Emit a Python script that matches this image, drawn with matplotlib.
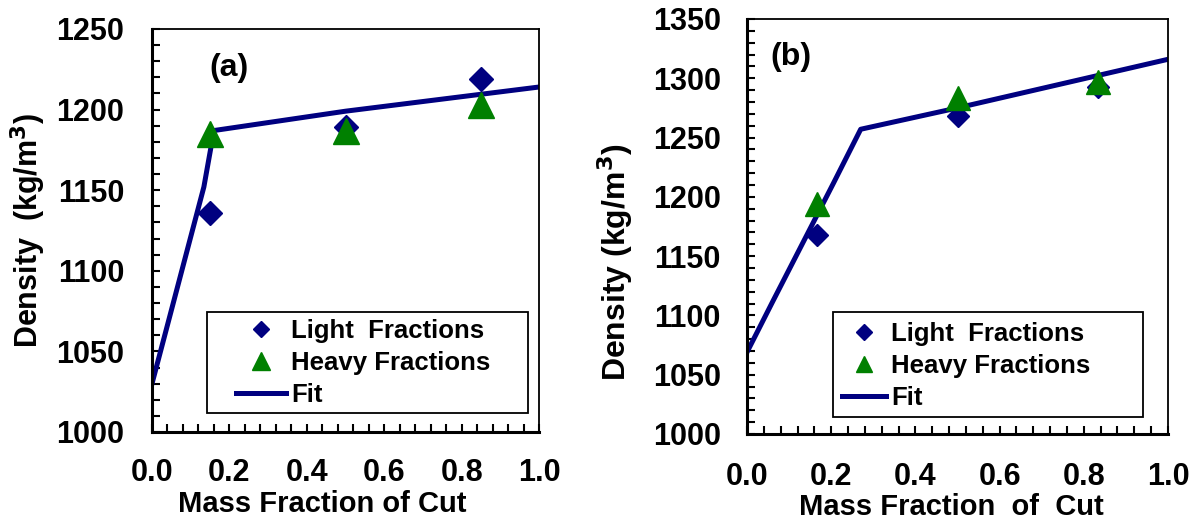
import matplotlib
matplotlib.use('Agg')
import matplotlib.pyplot as plt
from matplotlib.patches import Rectangle
from matplotlib.ticker import MultipleLocator

plt.rcParams['font.family'] = ['Liberation Sans', 'DejaVu Sans']
plt.rcParams['font.weight'] = 'bold'

# panel (a)
a_light_x = [0.15, 0.50, 0.85]
a_light_y = [1136, 1189, 1219]
a_heavy_x = [0.15, 0.50, 0.85]
a_heavy_y = [1185, 1187, 1203]
a_fit_x = [0.0, 0.134, 0.16, 0.33, 0.5, 1.0]
a_fit_y = [1030, 1152, 1187, 1193, 1199, 1214]

# panel (b)
b_light_x = [0.167, 0.50, 0.834]
b_light_y = [1168, 1268, 1293]
b_heavy_x = [0.167, 0.50, 0.834]
b_heavy_y = [1194, 1283, 1297]
b_fit_x = [0.0, 0.06, 0.206, 0.27, 0.5, 1.0]
b_fit_y = [1069, 1111, 1212, 1257, 1275, 1316]

x_ticks = [0.0, 0.2, 0.4, 0.6, 0.8, 1.0]
x_labels = ['0.0', '0.2', '0.4', '0.6', '0.8', '1.0']

navy = '#000080'
green = '#008000'

fig = plt.figure(figsize=(11.96, 5.23), dpi=100)


def draw_panel(rect, lx, ly, hx, hy, fx, fy, ylim, tag, tag_pos, xlabel, ylabel, ylabel_size,
               xl_pos, yl_pos, ypad, xpad, leg_box, leg_anchor, handlelen, ms_scale):
    ax = fig.add_axes(rect)
    ax.plot(fx, fy, color=navy, lw=3.6, label='Fit', zorder=2)
    ax.plot(lx, ly, 'D', color=navy, ms=12.7 * ms_scale, label='Light  Fractions', zorder=3)
    ax.plot(hx, hy, '^', color=green, ms=19 * ms_scale, label='Heavy Fractions', zorder=4)
    ax.set_xlim(0, 1)
    ax.set_ylim(*ylim)
    ax.set_xticks(x_ticks)
    ax.set_xticklabels(x_labels)
    ax.yaxis.set_major_locator(MultipleLocator(50))
    ax.yaxis.set_minor_locator(MultipleLocator(10))
    ax.xaxis.set_minor_locator(MultipleLocator(0.04))
    ax.tick_params(which='both', direction='in', length=6, width=1.5,
                   top=False, right=False, labelsize=22)
    ax.tick_params(axis='y', which='major', pad=ypad)
    ax.tick_params(axis='x', which='major', pad=xpad)
    for lab in ax.get_xticklabels() + ax.get_yticklabels():
        lab.set_fontweight('bold')
    for s in ['left', 'bottom']:
        ax.spines[s].set_linewidth(2.2)
    for s in ['top', 'right']:
        ax.spines[s].set_linewidth(1.3)
    ax.set_xlabel(xlabel, fontsize=21, fontweight='bold')
    ax.xaxis.set_label_coords(*xl_pos)
    ax.set_ylabel(ylabel, fontsize=ylabel_size, fontweight='bold')
    ax.yaxis.set_label_coords(*yl_pos)
    ax.text(tag_pos[0], tag_pos[1], tag, transform=ax.transAxes, fontsize=23,
            fontweight='bold', ha='center', va='center')

    handles, labels = ax.get_legend_handles_labels()
    order = [1, 2, 0]
    ax.legend([handles[i] for i in order], [labels[i] for i in order],
              loc='center left', bbox_to_anchor=leg_anchor, frameon=False,
              markerscale=0.66, handlelength=handlelen,
              handletextpad=0.2, labelspacing=0.3, borderpad=0, borderaxespad=0,
              prop={'weight': 'bold', 'size': 18.5})
    ax.add_patch(Rectangle((leg_box[0], leg_box[1]), leg_box[2] - leg_box[0],
                           leg_box[3] - leg_box[1], transform=ax.transAxes,
                           fill=False, edgecolor='black', lw=1.3, zorder=5))
    return ax


draw_panel([0.1271, 0.174, 0.3236, 0.7706], a_light_x, a_light_y, a_heavy_x, a_heavy_y,
           a_fit_x, a_fit_y, (1000, 1250), '(a)', (0.199, 0.903),
           'Mass Fraction of Cut', 'Density  (kg/m$^3$)', 22,
           (0.44, -0.143), (-0.27, 0.5), 20, 19,
           (0.143, 0.046, 0.972, 0.298), (0.217, 0.171), 1.95, 1.0)

draw_panel([0.6246, 0.1702, 0.352, 0.7935], b_light_x, b_light_y, b_heavy_x, b_heavy_y,
           b_fit_x, b_fit_y, (1000, 1350), '(b)', (0.105, 0.908),
           'Mass Fraction  of  Cut', 'Density (kg/m$^3$)', 23,
           (0.485, -0.143), (-0.265, 0.414), 19, 20,
           (0.204, 0.042, 0.94, 0.295), (0.226, 0.164), 1.7, 0.92)

plt.savefig('out.png', dpi=100)
